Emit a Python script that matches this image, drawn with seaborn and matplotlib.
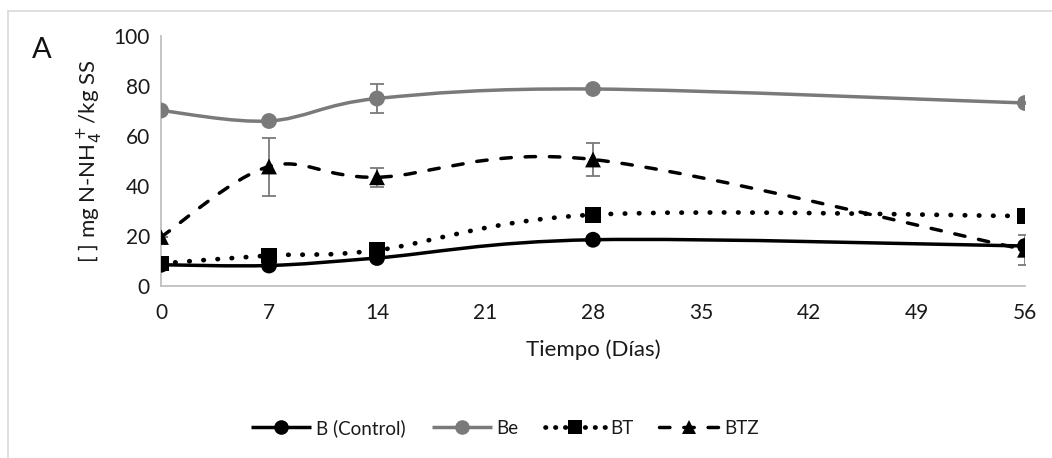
import numpy as np
import pandas as pd
import matplotlib
matplotlib.use("Agg")
import matplotlib.pyplot as plt
import seaborn as sns
from matplotlib.path import Path
from matplotlib.patches import PathPatch
from matplotlib.lines import Line2D

# Datos
dias = [0, 7, 14, 28, 56]
b_control = [8.5, 8.2, 11.2, 18.5, 16.0]
be = [70.2, 66.0, 75.0, 78.8, 73.2]
bt = [9.0, 12.2, 14.3, 28.5, 28.0]
btz = [19.6, 47.8, 43.5, 50.6, 14.5]

be_err = [0.0, 0.8, 5.7, 0.5, 0.5]
btz_err = [0.0, 11.6, 3.9, 6.5, 6.0]

series = ["B (Control)", "Be", "BT", "BTZ"]
valores = [b_control, be, bt, btz]
colores = ["#000000", "#7a7a7a", "#000000", "#000000"]
estilos = ["-", "-", (0, (0.1, 2.9)), (0, (3, 4))]
marcadores = ["o", "o", "s", "^"]

sns.set_theme(style="white")
plt.rcParams["font.family"] = ["Lato", "DejaVu Sans"]

fig = plt.figure(figsize=(10.52, 4.58), dpi=100)
ax = fig.add_axes([161 / 1052, 1 - 286 / 458, 864 / 1052, 250 / 458])


def smooth_path(x, y):
    # curva suave tipo Excel (Catmull-Rom -> Bezier)
    pts = np.column_stack([x, y]).astype(float)
    verts = [pts[0]]
    codes = [Path.MOVETO]
    n = len(pts)
    for i in range(n - 1):
        p0 = pts[i - 1] if i > 0 else pts[i]
        p1 = pts[i]
        p2 = pts[i + 1]
        p3 = pts[i + 2] if i + 2 < n else pts[i + 1]
        c1 = p1 + (p2 - p0) / 6.0
        c2 = p2 - (p3 - p1) / 6.0
        verts += [c1, c2, p2]
        codes += [Path.CURVE4] * 3
    return Path(verts, codes)


rows = []
for name, vals in zip(series, valores):
    for d, v in zip(dias, vals):
        rows.append({"Dia": d, "Valor": v, "Serie": name})
df = pd.DataFrame(rows)

for name, vals, c, ls in zip(series, valores, colores, estilos):
    patch = PathPatch(smooth_path(dias, vals), facecolor="none", edgecolor=c,
                      lw=2.5, linestyle=ls, capstyle="round", zorder=2)
    if name == "BT":
        patch.set_linewidth(3.4)
    ax.add_patch(patch)

ax.errorbar(dias, be, yerr=be_err, fmt="none", ecolor="#7a7a7a", elinewidth=1.3,
            capsize=5, capthick=1.3, zorder=3)
ax.errorbar(dias, btz, yerr=btz_err, fmt="none", ecolor="#7a7a7a", elinewidth=1.3,
            capsize=5, capthick=1.3, zorder=3)

sns.scatterplot(data=df, x="Dia", y="Valor", hue="Serie", style="Serie",
                palette=dict(zip(series, colores)),
                markers=dict(zip(series, marcadores)),
                s=130, edgecolor="none", linewidth=0, legend=False, ax=ax, zorder=4)

ax.set_xlim(0, 56)
ax.set_ylim(0, 100)
ax.set_xticks([0, 7, 14, 21, 28, 35, 42, 49, 56])
ax.set_yticks([0, 20, 40, 60, 80, 100])
ax.tick_params(axis="both", length=0, labelsize=15, colors="#1a1a1a")
ax.tick_params(axis="x", pad=12)
ax.tick_params(axis="y", pad=8)
for side in ["top", "right"]:
    ax.spines[side].set_visible(False)
for side in ["left", "bottom"]:
    ax.spines[side].set_color("#bfbfbf")
    ax.spines[side].set_linewidth(1.3)
ax.set_xlabel("Tiempo (Días)", fontsize=16, color="#1a1a1a", labelpad=12)
ax.set_ylabel("[ ] mg N-NH$_4^+$/kg SS", fontsize=16, color="#1a1a1a", labelpad=6)
ax.patch.set_alpha(0)

fig.text(42 / 1052, 1 - 50 / 458, "A", fontsize=21, color="#111111", va="center", ha="center")

handles = []
for name, c, ls, m in zip(series, colores, estilos, marcadores):
    handles.append(Line2D([0], [0], color=c, lw=2.5 if name != "BT" else 3.4,
                          linestyle=ls if name != "BT" else (0, (0.1, 2.0)),
                          marker=m, markersize=10.5, markeredgewidth=0, dash_capstyle="round",
                          solid_capstyle="butt"))
fig.legend(handles, series, loc="center", bbox_to_anchor=(505 / 1052, 1 - 428 / 458), ncol=4,
           frameon=False, fontsize=13.5, handlelength=3.2, columnspacing=1.4, handletextpad=0.25,
           labelcolor="#1a1a1a")

# marco del area del grafico
fig.add_artist(Line2D([8 / 1052, 1], [1 - 11 / 458] * 2, color="#d9d9d9", lw=1.2))
fig.add_artist(Line2D([8 / 1052] * 2, [0, 1 - 11 / 458], color="#d9d9d9", lw=1.2))

fig.savefig("out.png", dpi=100)
